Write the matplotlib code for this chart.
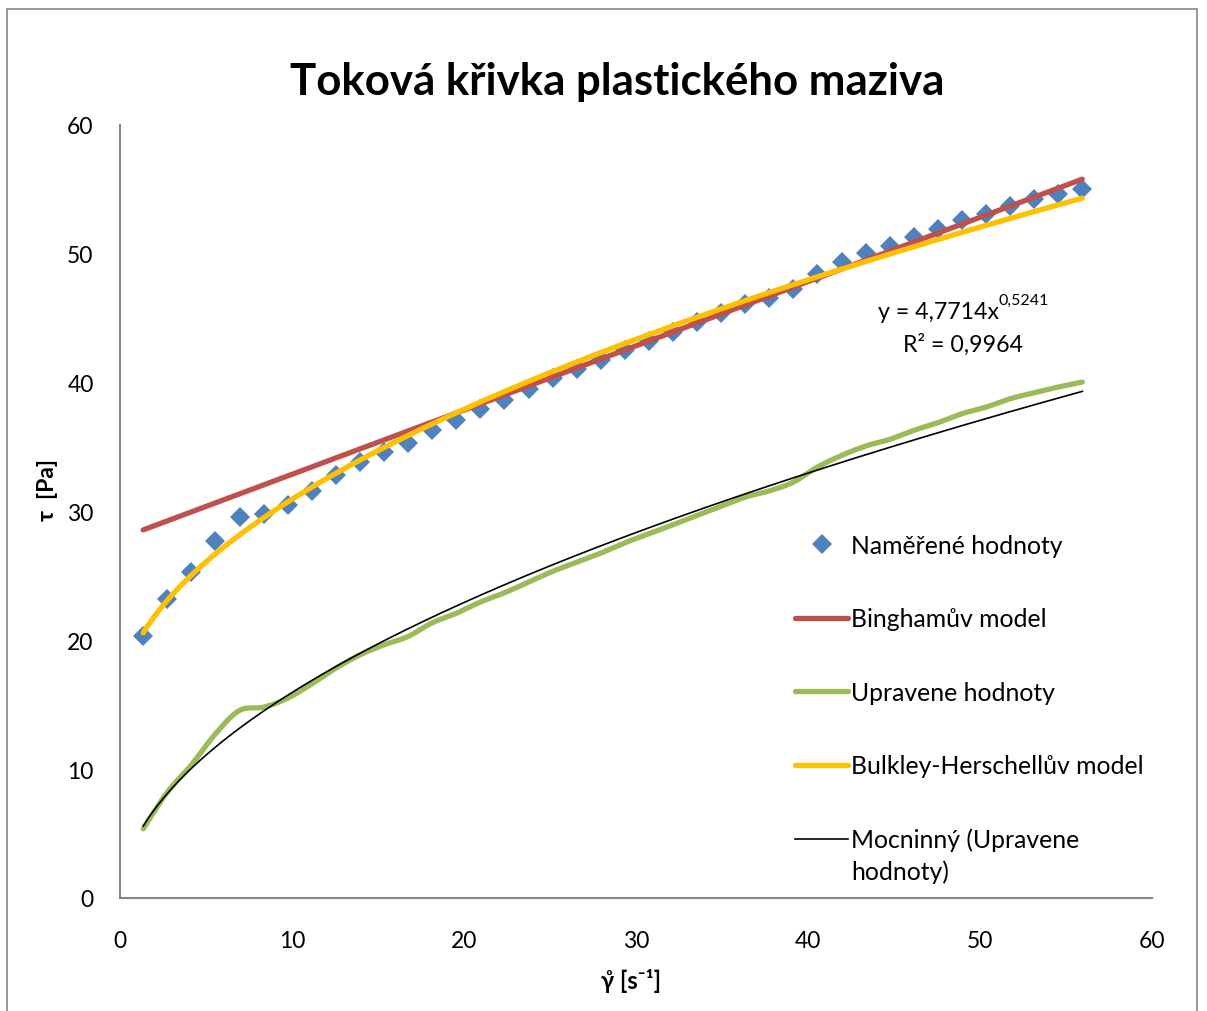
import numpy as np
import matplotlib
matplotlib.use("Agg")
import matplotlib.pyplot as plt
from matplotlib.patches import Rectangle
from matplotlib.transforms import IdentityTransform

# ---- data -------------------------------------------------------------
shear_rate = [1.35, 2.75, 4.15, 5.55, 6.95, 8.35, 9.75, 11.15, 12.55, 13.95,
              15.35, 16.75, 18.15, 19.55, 20.95, 22.35, 23.75, 25.15, 26.55, 27.95,
              29.35, 30.75, 32.15, 33.55, 34.95, 36.35, 37.75, 39.15, 40.55, 41.95,
              43.35, 44.75, 46.15, 47.55, 48.95, 50.35, 51.75, 53.15, 54.55, 55.95]

tau_measured = [20.37, 23.21, 25.33, 27.74, 29.56, 29.81, 30.51, 31.62, 32.84, 33.87,
                34.65, 35.30, 36.36, 37.10, 37.97, 38.69, 39.52, 40.35, 41.07, 41.77,
                42.57, 43.27, 43.97, 44.70, 45.40, 46.12, 46.60, 47.28, 48.45, 49.35,
                50.08, 50.60, 51.30, 51.89, 52.59, 53.10, 53.75, 54.22, 54.66, 55.05]

tau_adjusted = [5.37, 8.21, 10.33, 12.74, 14.56, 14.81, 15.51, 16.62, 17.84, 18.87,
                19.65, 20.30, 21.36, 22.10, 22.97, 23.69, 24.52, 25.35, 26.07, 26.77,
                27.57, 28.27, 28.97, 29.70, 30.40, 31.12, 31.60, 32.28, 33.45, 34.35,
                35.08, 35.60, 36.30, 36.89, 37.59, 38.10, 38.75, 39.22, 39.66, 40.05]

# Bingham model: tau = tau0 + eta * gamma
bingham_tau0 = 27.9
bingham_eta = 0.4986

# power-law trend of the adjusted values: tau = K * gamma^n
power_k = 4.7714
power_n = 0.5241
power_r2 = 0.9964

# Herschel-Bulkley model: tau = tau0 + K * gamma^n
hb_tau0 = 15.0

x_ticks = [0, 10, 20, 30, 40, 50, 60]
y_ticks = [0, 10, 20, 30, 40, 50, 60]

labels = ["Naměřené hodnoty", "Binghamův model", "Upravene hodnoty",
          "Bulkley-Herschellův model", "Mocninný (Upravene hodnoty)"]

BLUE = "#4F81BD"
RED = "#C0504D"
GREEN = "#9BBB59"
YELLOW = "#FFC000"
GREY = "#868686"

plt.rcParams["font.family"] = ["Lato", "DejaVu Sans"]


def smooth_curve(x, y, steps=16):
    """Bezier smoothing through every point (spreadsheet style smoothed line)."""
    x = np.asarray(x, float)
    y = np.asarray(y, float)
    px = np.concatenate([[x[0]], x, [x[-1]]])
    py = np.concatenate([[y[0]], y, [y[-1]]])
    t = np.linspace(0, 1, steps, endpoint=False)[:, None]
    xs, ys = [], []
    for i in range(len(x) - 1):
        p0 = np.array([px[i], py[i]])
        p1 = np.array([px[i + 1], py[i + 1]])
        p2 = np.array([px[i + 2], py[i + 2]])
        p3 = np.array([px[i + 3], py[i + 3]])
        c1 = p1 + (p2 - p0) / 6.0
        c2 = p2 - (p3 - p1) / 6.0
        b = ((1 - t) ** 3) * p1 + 3 * ((1 - t) ** 2) * t * c1 + 3 * (1 - t) * t ** 2 * c2 + t ** 3 * p2
        xs.append(b[:, 0])
        ys.append(b[:, 1])
    xs.append([x[-1]])
    ys.append([y[-1]])
    return np.concatenate(xs), np.concatenate(ys)


W, H = 1207, 1012
fig = plt.figure(figsize=(W / 100, H / 100), dpi=100)

# outer chart frame
fig.add_artist(Rectangle((7 / W, -0.02), (1197 - 7) / W, 1.02 - 10 / H,
                         transform=fig.transFigure, fill=False,
                         edgecolor=GREY, linewidth=1.2))

ax = fig.add_axes([120 / W, 1 - 899 / H, (1152 - 120) / W, (899 - 126) / H])

g = np.asarray(shear_rate)
g_fine = np.linspace(g.min(), g.max(), 400)

ax.plot(shear_rate, tau_measured, linestyle="none", marker="D", markersize=10,
        color=BLUE, markeredgewidth=0, label=labels[0], zorder=2)
ax.plot(g_fine, bingham_tau0 + bingham_eta * g_fine, color=RED, linewidth=3.8,
        solid_capstyle="round", label=labels[1], zorder=3)
sx, sy = smooth_curve(shear_rate, tau_adjusted)
ax.plot(sx, sy, color=GREEN, linewidth=3.8, solid_capstyle="round",
        label=labels[2], zorder=3)
ax.plot(g_fine, hb_tau0 + power_k * g_fine ** power_n, color=YELLOW, linewidth=3.8,
        solid_capstyle="round", label=labels[3], zorder=4)
ax.plot(g_fine, power_k * g_fine ** power_n, color="black", linewidth=1.2,
        label=labels[4].split(" (")[0] + " (Upravene", zorder=5)

ax.set_xlim(0, 60)
ax.set_ylim(0, 60)
ax.set_xticks(x_ticks)
ax.set_yticks(y_ticks)
ax.tick_params(axis="both", length=0, labelsize=16.5, colors="black")
ax.tick_params(axis="x", pad=23)
ax.tick_params(axis="y", pad=19)
for side in ("top", "right"):
    ax.spines[side].set_visible(False)
for side in ("left", "bottom"):
    ax.spines[side].set_color(GREY)
    ax.spines[side].set_linewidth(1.5)

# trendline equation
eq = ax.text(44.05, 45.5, "y = 4,7714x", fontsize=16.7, ha="left", va="center")
ax.annotate("0,5241", xy=(1, 0.72), xycoords=eq, fontsize=11.5,
            ha="left", va="bottom")
ax.text(49.0, 43.0, "R² = 0,9964", fontsize=16.7, ha="center", va="center")

fig.text(617 / W, 1 - 82 / H, "Toková křivka plastického maziva",
         fontsize=31.5, fontweight="bold", ha="center", va="center")
fig.text(48 / W, 1 - 490 / H, "τ  [Pa]", rotation=90, fontsize=16.5,
         fontweight="bold", ha="center", va="center")
fig.text(631 / W, 1 - 981 / H, "γ\u030a [s⁻¹]", fontsize=17, fontweight="bold",
         ha="center", va="center")

leg = ax.legend(loc="upper left", bbox_to_anchor=(795 / W, 1 - 535 / H),
                bbox_transform=fig.transFigure, frameon=False, fontsize=17.8,
                handlelength=2.15, handletextpad=0.12, labelspacing=2.04,
                borderpad=0, borderaxespad=0, numpoints=1)

# second line of the last legend label
fig.canvas.draw()
last = leg.get_texts()[-1]
bx, by = last.get_transform().transform(last.get_position())
fig.text(bx, by - 32, "hodnoty)", fontsize=17.8, ha="left", va="baseline",
         transform=IdentityTransform())

fig.savefig("out.png", dpi=100)
